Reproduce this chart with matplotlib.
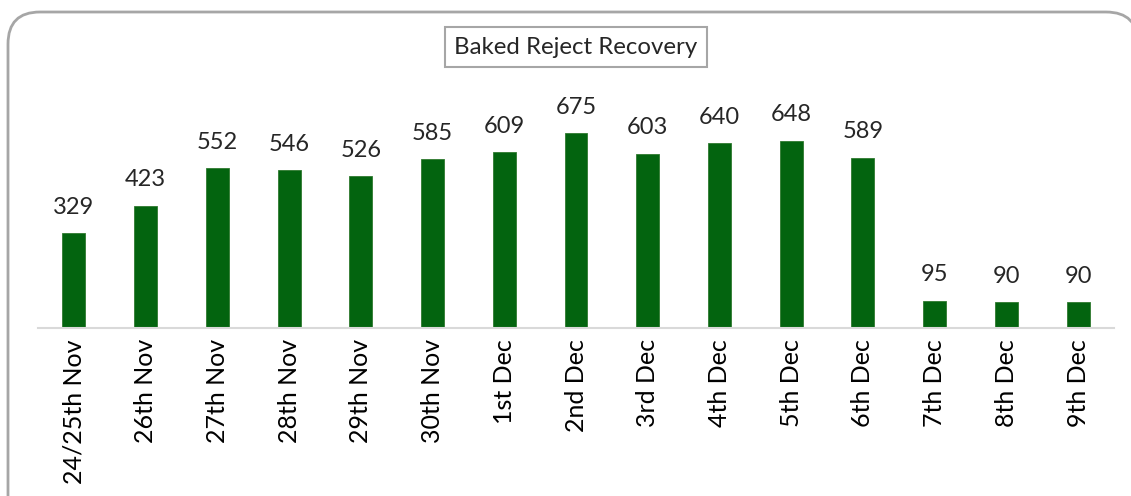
import matplotlib.pyplot as plt
from matplotlib.patches import FancyBboxPatch

days = ['24/25th Nov', '26th Nov', '27th Nov', '28th Nov', '29th Nov', '30th Nov',
        '1st Dec', '2nd Dec', '3rd Dec', '4th Dec', '5th Dec', '6th Dec',
        '7th Dec', '8th Dec', '9th Dec']
recovery = [329, 423, 552, 546, 526, 585, 609, 675, 603, 640, 648, 589, 95, 90, 90]

plt.rcParams['font.family'] = ['Lato', 'DejaVu Sans']

fig = plt.figure(figsize=(11.31, 4.96), dpi=100)

# rounded outer frame (in inches so corners stay round)
frame = FancyBboxPatch((0.08, -0.6), 11.3, 5.44, boxstyle='round,pad=0,rounding_size=0.32',
                       transform=fig.dpi_scale_trans, facecolor='white',
                       edgecolor='#a6a6a6', linewidth=2, zorder=-5)
fig.patches.append(frame)

ax = fig.add_axes([38 / 1131, 1 - 328 / 496, 1076 / 1131, 268 / 496])
ax.patch.set_alpha(0)

x = range(len(days))
bars = ax.bar(x, recovery, width=0.32, color='#03640f', edgecolor='#2f7a2f', linewidth=0.6)
for xi, v in zip(x, recovery):
    ax.annotate(str(v), (xi, v), xytext=(0, 11), textcoords='offset points',
                ha='center', va='bottom', fontsize=17, color='#262626')

ax.set_xlim(-0.5, len(days) - 0.5)
ax.set_ylim(0, 927)
ax.set_yticks([])
ax.set_xticks(list(x))
ax.set_xticklabels(days, rotation=90, fontsize=18, color='#000000')
ax.tick_params(axis='x', length=0, pad=8)
for s in ['top', 'left', 'right']:
    ax.spines[s].set_visible(False)
ax.spines['bottom'].set_color('#d9d9d9')
ax.spines['bottom'].set_linewidth(1.5)

fig.text(576 / 1131, 1 - 47 / 496, 'Baked Reject Recovery', ha='center', va='center',
         fontsize=17.3, color='#262626',
         bbox=dict(boxstyle='square,pad=0.38', facecolor='white', edgecolor='#a6a6a6', linewidth=1.5))

fig.savefig('out.png', dpi=100)
